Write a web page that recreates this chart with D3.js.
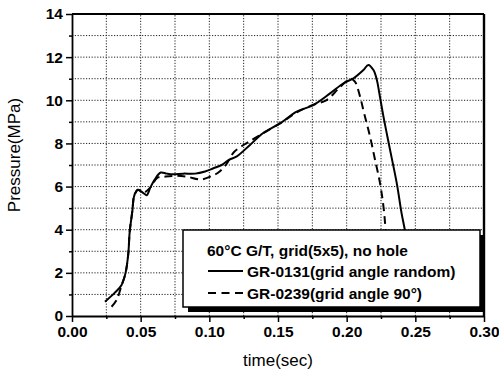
<!DOCTYPE html>
<html><head><meta charset="utf-8">
<script src="https://cdn.jsdelivr.net/npm/d3@7"></script>
<style>
body{margin:0;background:#fff;}
svg{display:block;font-family:"Liberation Sans",Arial,sans-serif;}
</style></head>
<body>
<svg id="chart" width="499" height="372"></svg>
<script>
// ---- data ----
const solidT = [0.024,0.031,0.036,0.039,0.041,0.042,0.044,0.045,0.0466,0.048,0.052,0.0544,0.057,0.060,0.0646,0.069,0.0736,0.081,0.0896,0.0969,0.103,0.109,0.114,0.120,0.1296,0.139,0.1515,0.1636,0.1757,0.1879,0.1977,0.205,0.2122,0.2158,0.2195,0.222,0.2238,0.2268,0.2316,0.2365,0.240,0.2425,0.247,0.251];
const solidP = [0.66,1.07,1.43,2.0,2.9,3.9,4.9,5.5,5.77,5.85,5.7,5.6,5.95,6.3,6.65,6.6,6.57,6.6,6.6,6.7,6.85,7.0,7.23,7.4,7.93,8.47,8.93,9.47,9.78,10.32,10.79,11.02,11.4,11.64,11.4,10.94,10.32,9.24,7.7,6.15,4.76,3.94,2.0,0.3];
const dashT = [0.0288,0.0325,0.036,0.039,0.041,0.042,0.044,0.045,0.0466,0.048,0.052,0.057,0.062,0.0677,0.075,0.0835,0.094,0.103,0.1066,0.112,0.118,0.128,0.140,0.152,0.164,0.176,0.1854,0.195,0.203,0.206,0.2097,0.2127,0.217,0.2207,0.2243,0.2268,0.2284,0.231,0.234];
const dashP = [0.43,0.74,1.4,2.0,2.9,3.9,4.9,5.5,5.75,5.85,5.72,5.95,6.4,6.46,6.5,6.46,6.33,6.53,6.65,7.0,7.6,8.05,8.5,8.95,9.45,9.8,10.01,10.6,11.0,10.87,10.18,9.4,8.32,7.23,6.15,5.07,3.99,2.0,0.3];
const xTicks = [0,0.05,0.10,0.15,0.20,0.25,0.30];
const yTicks = [0,2,4,6,8,10,12,14];
const legendTitle = "60\u00B0C G/T, grid(5x5), no hole";
const seriesNames = ["GR-0131(grid angle random)","GR-0239(grid angle 90\u00B0)"];

const svg = d3.select("#chart");
const x = d3.scaleLinear().domain([0,0.30]).range([72,484]);
const y = d3.scaleLinear().domain([0,14]).range([316,14]);

// grid
const gx = d3.range(0,0.3001,0.025);
const gy = d3.range(0,14.001,1);
svg.append("g").selectAll("line").data(gx.slice(1,-1)).join("line")
  .attr("x1",d=>x(d)).attr("x2",d=>x(d)).attr("y1",y(0)).attr("y2",y(14))
  .attr("stroke","#222").attr("stroke-width",1).attr("stroke-dasharray","1.2,1.6");
svg.append("g").selectAll("line").data(gy.slice(1,-1)).join("line")
  .attr("y1",d=>y(d)).attr("y2",d=>y(d)).attr("x1",x(0)).attr("x2",x(0.3))
  .attr("stroke","#222").attr("stroke-width",1).attr("stroke-dasharray","1.2,1.6");

// axes
const xAxis = d3.axisBottom(x).tickValues(xTicks).tickFormat(d3.format(".2f")).tickSize(6).tickSizeOuter(0);
const yAxis = d3.axisLeft(y).tickValues(yTicks).tickFormat(d3.format("d")).tickSize(6).tickSizeOuter(0);
const gxA = svg.append("g").attr("transform",`translate(0,${y(0)})`).call(xAxis);
const gyA = svg.append("g").attr("transform",`translate(${x(0)},0)`).call(yAxis);
// minor ticks
svg.append("g").attr("transform",`translate(0,${y(0)})`)
  .call(d3.axisBottom(x).tickValues(d3.range(0.025,0.3,0.05)).tickSize(3).tickFormat(""))
  .select(".domain").remove();
svg.append("g").attr("transform",`translate(${x(0)},0)`)
  .call(d3.axisLeft(y).tickValues(d3.range(1,14,2)).tickSize(3).tickFormat(""))
  .select(".domain").remove();
[gxA,gyA].forEach(g=>{
  g.selectAll("text").attr("font-size",15.5).attr("font-weight","bold").attr("fill","#000");
  g.select(".domain").attr("stroke","#000").attr("stroke-width",1.8);
});
gxA.selectAll("text").attr("y",10);
gyA.selectAll("text").attr("x",-9);
svg.selectAll(".tick line").attr("stroke","#000").attr("stroke-width",1.5);

// top and right borders
svg.append("line").attr("x1",x(0)).attr("x2",x(0.3)).attr("y1",y(14)).attr("y2",y(14))
  .attr("stroke","#000").attr("stroke-width",1.8);
svg.append("line").attr("x1",x(0.3)).attr("x2",x(0.3)).attr("y1",y(14)).attr("y2",y(0))
  .attr("stroke","#000").attr("stroke-width",2.4);

// lines
const lineC = d3.line().x(d=>x(d[0])).y(d=>y(d[1])).curve(d3.curveCatmullRom.alpha(0.5));
svg.append("path").datum(solidT.map((t,i)=>[t,solidP[i]])).attr("d",lineC)
  .attr("fill","none").attr("stroke","#000").attr("stroke-width",2);
svg.append("path").datum(dashT.map((t,i)=>[t,dashP[i]])).attr("d",lineC)
  .attr("fill","none").attr("stroke","#000").attr("stroke-width",2).attr("stroke-dasharray","8,5");

// legend
const lg = svg.append("g");
lg.append("rect").attr("x",188).attr("y",235).attr("width",297).attr("height",77).attr("fill","#000");
lg.append("rect").attr("x",183).attr("y",230).attr("width",297).attr("height",77)
  .attr("fill","#fff").attr("stroke","#000").attr("stroke-width",1.5);
lg.append("text").attr("x",207).attr("y",256).attr("font-size",15.5).attr("font-weight","bold").text(legendTitle);
lg.append("line").attr("x1",208).attr("x2",243).attr("y1",271).attr("y2",271).attr("stroke","#000").attr("stroke-width",2);
lg.append("line").attr("x1",208).attr("x2",243).attr("y1",293).attr("y2",293).attr("stroke","#000").attr("stroke-width",2).attr("stroke-dasharray","8,5.5");
lg.append("text").attr("x",247).attr("y",277).attr("font-size",15.5).attr("font-weight","bold").text(seriesNames[0]);
lg.append("text").attr("x",247).attr("y",299).attr("font-size",15.5).attr("font-weight","bold").text(seriesNames[1]);

// axis titles
svg.append("text").attr("x",278).attr("y",366).attr("text-anchor","middle").attr("font-size",17).text("time(sec)");
svg.append("text").attr("transform","translate(20,155) rotate(-90)").attr("text-anchor","middle").attr("font-size",17).text("Pressure(MPa)");
</script>
</body></html>
